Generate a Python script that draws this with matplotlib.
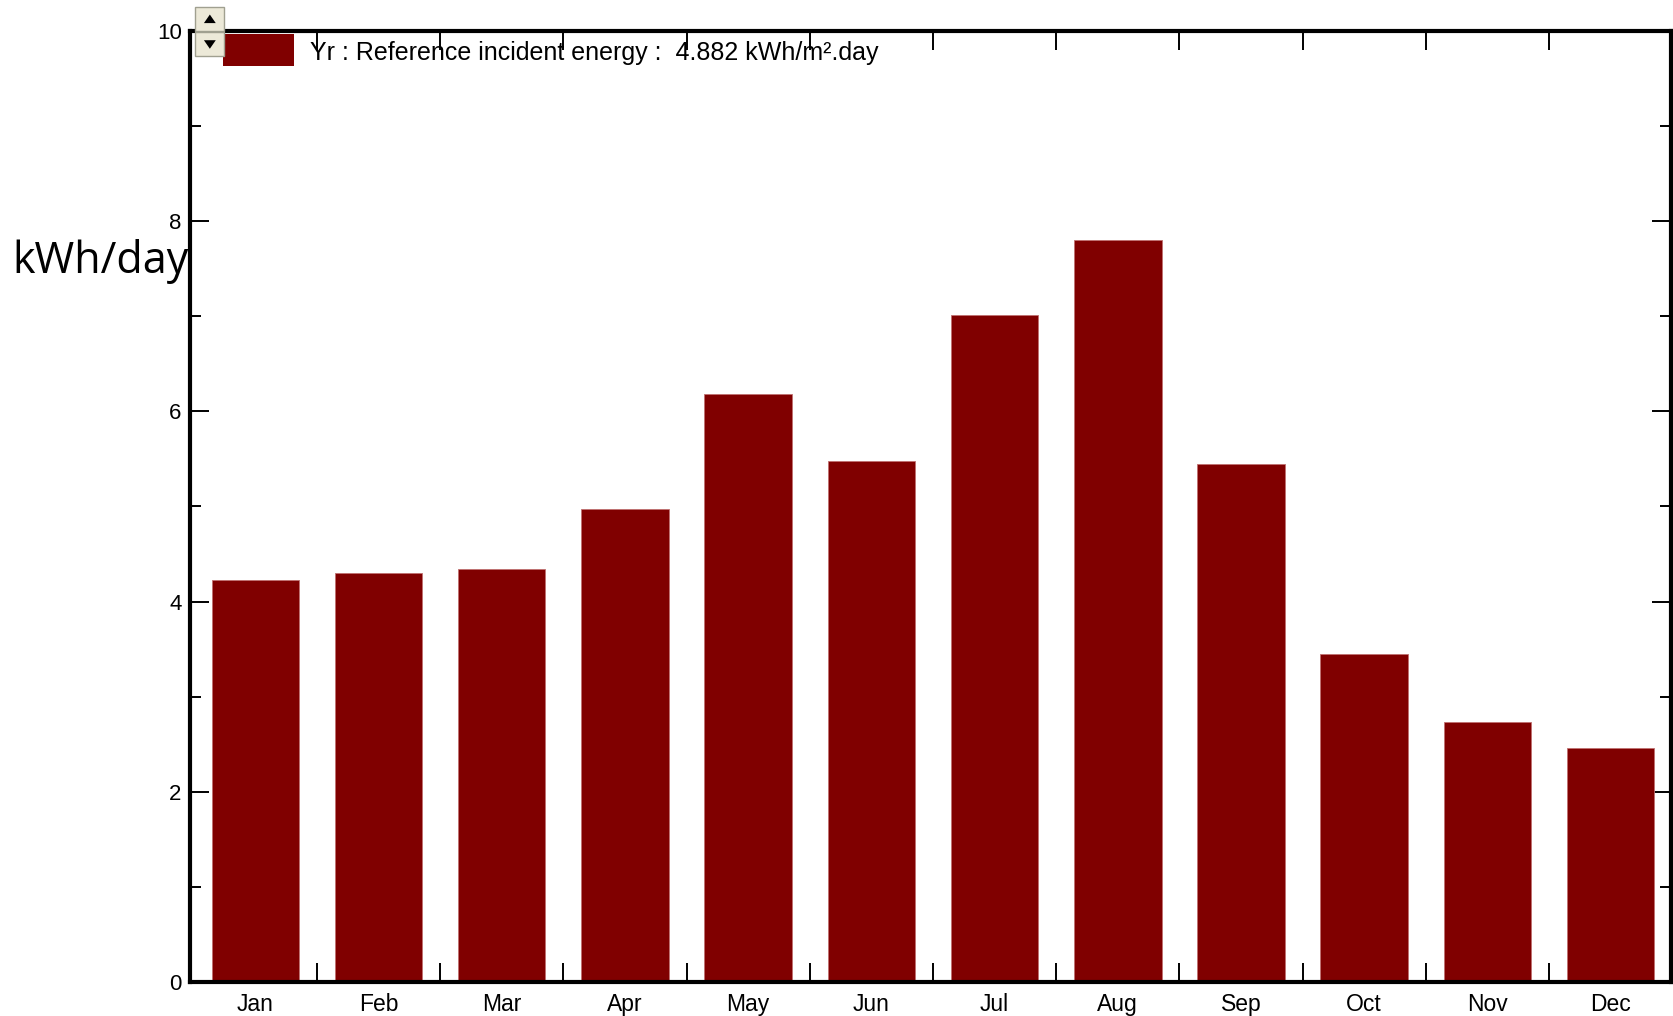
import matplotlib
matplotlib.use("Agg")
import numpy as np
import matplotlib.pyplot as plt
from matplotlib.patches import Rectangle, Polygon

MONTHS = ["Jan", "Feb", "Mar", "Apr", "May", "Jun",
          "Jul", "Aug", "Sep", "Oct", "Nov", "Dec"]
YR_KWH = [4.23, 4.30, 4.34, 4.97, 6.18, 5.48,
          7.01, 7.80, 5.45, 3.45, 2.73, 2.46]
YR_MEAN = 4.882
Y_TICKS = [0, 2, 4, 6, 8, 10]

BAR_COLOR = "#800000"
TICK_FONT = "Liberation Sans"

fig = plt.figure(figsize=(16.74, 10.16), dpi=100)
ax = fig.add_axes([0.1135, 0.0335, 0.8847, 0.936])

x = np.arange(len(MONTHS))
ax.bar(x, YR_KWH, width=0.71, color=BAR_COLOR, edgecolor="#c07070",
       linewidth=0.6, zorder=2)

ax.set_xlim(-0.53, len(MONTHS) - 0.51)
ax.set_ylim(0, 10)

for side in ax.spines.values():
    side.set_linewidth(3)
    side.set_zorder(5)

# y: labelled even ticks, short odd minor ticks on both sides
ax.set_yticks(Y_TICKS)
ax.set_yticklabels([str(v) for v in Y_TICKS], fontfamily=TICK_FONT,
                   fontsize=16)
ax.set_yticks(np.arange(1, 10, 2), minor=True)
ax.tick_params(axis="y", which="major", direction="in", length=14, width=1.4,
               right=True, pad=6)
ax.tick_params(axis="y", which="minor", direction="in", length=8, width=1.4,
               right=True)

# x: separators between months on top and bottom, labels under bars
ax.set_xticks(x)
ax.set_xticklabels(MONTHS, fontfamily=TICK_FONT, fontsize=16.5)
ax.tick_params(axis="x", which="major", length=0, pad=8)
ax.set_xticks(x[:-1] + 0.5, minor=True)
ax.tick_params(axis="x", which="minor", direction="in", length=14,
               width=1.4, top=True)

ax.set_ylabel("kWh/day", fontfamily="Open Sans", fontsize=31, rotation=0,
              ha="right", va="center")
ax.yaxis.set_label_coords(-0.001, 0.758)

# legend swatch and text inside the top-left corner
ax.add_patch(Rectangle((0.0224, 0.963), 0.0475, 0.0336, transform=ax.transAxes,
                       facecolor=BAR_COLOR, edgecolor="none", zorder=6,
                       clip_on=False))
ax.text(0.0807, 0.977, "Yr : Reference incident energy :  "
        f"{YR_MEAN:.3f} kWh/m\u00b2.day",
        transform=ax.transAxes, fontfamily=TICK_FONT, fontsize=18,
        va="center", ha="left", zorder=6)

# little up/down scroll buttons by the top-left corner
for y0, up in ((1.0, True), (0.974, False)):
    ax.add_patch(Rectangle((0.0036, y0), 0.0195, 0.0247, transform=ax.transAxes,
                           facecolor="#ece9d8", edgecolor="#a0a090",
                           linewidth=1, zorder=7, clip_on=False))
    cx, cy = 0.0134, y0 + 0.0123
    if up:
        tri = [(cx - 0.004, cy - 0.004), (cx + 0.004, cy - 0.004),
               (cx, cy + 0.005)]
    else:
        tri = [(cx - 0.004, cy + 0.004), (cx + 0.004, cy + 0.004),
               (cx, cy - 0.005)]
    ax.add_patch(Polygon(tri, closed=True, transform=ax.transAxes,
                         facecolor="black", edgecolor="none", zorder=8,
                         clip_on=False))

fig.savefig("out.png", dpi=100)
